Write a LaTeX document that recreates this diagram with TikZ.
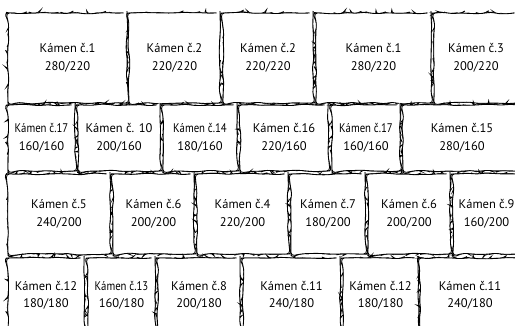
\documentclass[tikz,border=0pt]{standalone}
\usepackage{fontspec}
\usepackage{graphicx}
\setmainfont{PT Sans}
\usetikzlibrary{decorations.pathmorphing}
\tikzset{
  stone/.style={draw=black, line width=0.85pt, fill=white, rounded corners=3.5pt,
    decorate, decoration={random steps, segment length=8pt, amplitude=0.9pt},
    preaction={draw=black, line width=0.85pt, decorate, decoration={random steps, segment length=10pt, amplitude=1pt}},
    inner sep=0pt, align=center, font=\fontsize{12.5}{17.5}\selectfont}
}
\newcommand\stn[8][]{%
  \node[stone,#1, minimum width={#5-#3}, minimum height={#6-#4}] (#2) at ({(#3+#5)/2},{(#4+#6)/2}) {#7\\#8};
}
\newcommand\cond[1]{\scalebox{0.86}[1]{#1}}
\begin{document}
\begin{tikzpicture}[x=1pt,y=-1pt]
\pgfmathsetseed{7}
\useasboundingbox (0,0) rectangle (515,326);
\clip (0,0) rectangle (515,326);
% row 1
\stn{a1}{8}{13}{127}{103}{Kámen č.1}{280/220}
\stn{a2}{129}{13}{220}{103}{Kámen č.2}{220/220}
\stn{a3}{223}{13}{313}{103}{Kámen č.2}{220/220}
\stn{a4}{316}{13}{431}{103}{Kámen č.1}{280/220}
\stn{a5}{434}{13}{518}{103}{Kámen č.3}{200/220}
% row 2
\stn{b1}{8}{105}{75}{171}{\cond{Kámen č.17}}{160/160}
\stn{b2}{78}{105}{160}{171}{Kámen č. 10}{200/160}
\stn{b3}{163}{105}{237}{171}{\cond{Kámen č.14}}{180/160}
\stn{b4}{240}{105}{328}{171}{Kámen č.16}{220/160}
\stn{b5}{332}{105}{400}{171}{\cond{Kámen č.17}}{160/160}
\stn{b6}{403}{105}{521}{171}{Kámen č.15}{280/160}
% row 3
\stn{c1}{8}{174}{110}{254}{Kámen č.5}{240/200}
\stn{c2}{113}{174}{194}{254}{Kámen č.6}{200/200}
\stn{c3}{197}{174}{288}{254}{Kámen č.4}{220/200}
\stn{c4}{291}{174}{365}{254}{Kámen č.7}{180/200}
\stn{c5}{368}{174}{450}{254}{Kámen č.6}{200/200}
\stn{c6}{453}{174}{520}{254}{Kámen č.9}{160/200}
% row 4
\stn{d1}{8}{258}{84}{333}{Kámen č.12}{180/180}
\stn{d2}{88}{258}{155}{333}{\cond{Kámen č.13}}{160/180}
\stn{d3}{158}{258}{240}{333}{Kámen č.8}{200/180}
\stn{d4}{243}{258}{340}{333}{Kámen č.11}{240/180}
\stn{d5}{343}{258}{418}{333}{Kámen č.12}{180/180}
\stn{d6}{420}{258}{520}{333}{Kámen č.11}{240/180}
\end{tikzpicture}
\end{document}
